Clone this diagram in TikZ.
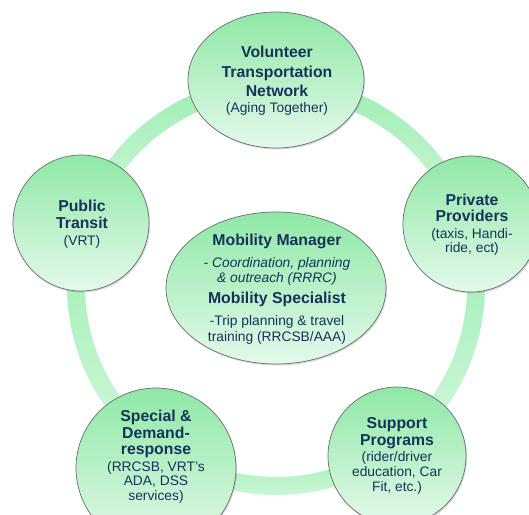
\documentclass[tikz,border=0pt]{standalone}
\usepackage{fontspec}
\setmainfont{Liberation Sans}
\usetikzlibrary{shapes.geometric,shadows}
\definecolor{navy}{HTML}{15335A}
\definecolor{bubtop}{HTML}{8FE8A6}
\definecolor{bubbot}{HTML}{E4F9EB}
\definecolor{ringtop}{HTML}{9CEEB2}
\definecolor{ringbot}{HTML}{D4F7DE}
\definecolor{rim}{HTML}{66706A}
\newcommand{\hd}[1]{{\fontsize{15.8}{17}\selectfont\bfseries #1}}

\begin{document}
\begin{tikzpicture}[x=1pt,y=1pt,
  bubble/.style={circle,draw=rim,line width=.7pt,top color=bubtop,bottom color=bubbot,
    inner sep=0pt,drop shadow={shadow xshift=1pt,shadow yshift=-1.5pt,opacity=.3}},
  oval/.style={bubble,ellipse},
  words/.style={align=center,text=navy,font=\fontsize{13.8}{14.5}\selectfont}]
\useasboundingbox (0,0) rectangle (529,514);
\coordinate (hub) at (276,228);

% ring behind the bubbles
\foreach \a/\b in {17.6/90,90/162,162/236.5,236.5/305.4,305.4/377.6}
  \shade[top color=ringtop,bottom color=ringbot]
    ([shift={(hub)}]\a:209) arc[start angle=\a,end angle=\b,radius=209]
    -- ([shift={(hub)}]\b:191) arc[start angle=\b,end angle=\a,radius=191] -- cycle;

\node[oval,minimum width=176,minimum height=136] (vtn) at (276,434) {};
\node[bubble,minimum size=136] (transit) at (81,291) {};
\node[bubble,minimum size=136] (private) at (471,290) {};
\node[bubble,minimum size=160] (special) at (156,46) {};
\node[bubble,minimum size=138] (support) at (397,58) {};
\node[oval,minimum width=220,minimum height=152] (mobility) at (276,226) {};

\node[words] (vtn text) at (277,433)
  {\hd{Volunteer}\\[5pt]\hd{Transportation}\\[4pt]\hd{Network}\\[1.5pt](Aging Together)};
\node[words] (transit text) at (82,290)
  {\hd{Public}\\[2.5pt]\hd{Transit}\\[2.5pt](VRT)};
\node[words] (private text) at (472,289.5)
  {\hd{Private}\\[1.5pt]\hd{Providers}\\[2.5pt](taxis, Handi-\\ride, ect)};
\node[words] (special text) at (156,57.5)
  {\hd{Special \&}\\[1pt]\hd{Demand-}\\[2pt]\hd{response}\\[2pt](RRCSB, VRT's\\ADA, DSS\\services)};
\node[words] (support text) at (397,58)
  {\hd{Support}\\[2.5pt]\hd{Programs}\\[1.5pt](rider/driver\\education, Car\\[.5pt]Fit, etc.)};
\node[words] (mobility text) at (277,225)
  {\hd{Mobility Manager}\\[8pt]\textit{- Coordination, planning}\\\textit{\& outreach (RRRC)}\\[7pt]
   \hd{Mobility Specialist}\\[7.5pt]-Trip planning \& travel\\[1pt]training (RRCSB/AAA)};
\end{tikzpicture}
\end{document}
